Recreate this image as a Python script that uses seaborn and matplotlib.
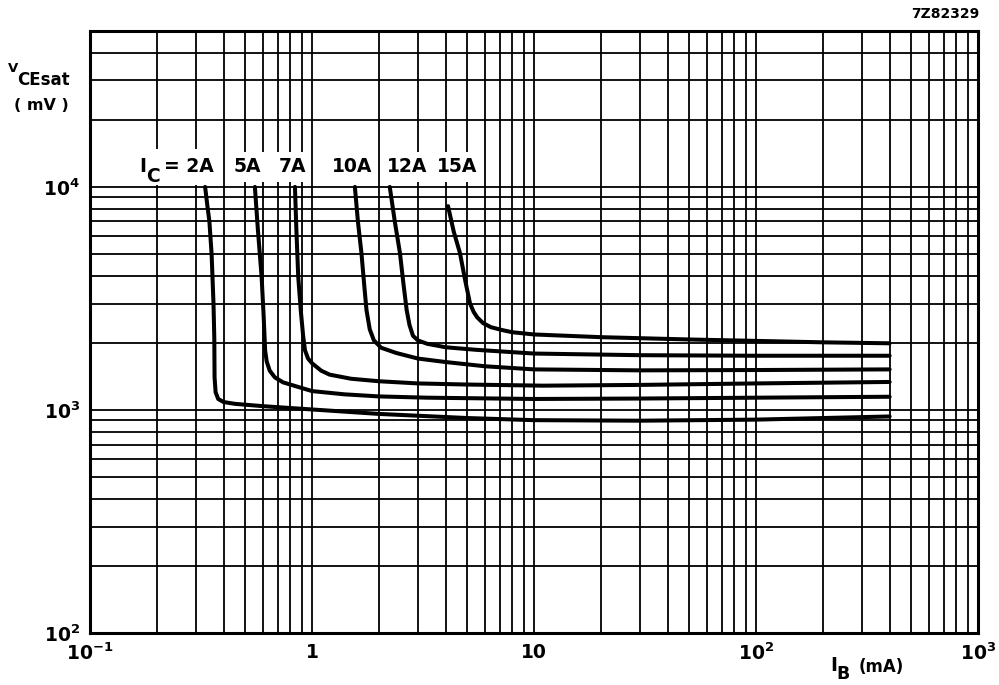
import matplotlib
matplotlib.use("Agg")
import numpy as np
import pandas as pd
import matplotlib.pyplot as plt
import seaborn as sns
from matplotlib.ticker import LogLocator, NullFormatter

# V_CEsat (mV) against I_B (mA), one curve per collector current
ib_2a = [0.330, 0.338, 0.345, 0.353, 0.360, 0.363, 0.364, 0.368, 0.378, 0.40, 0.45, 0.6, 0.8, 1.0, 2.0, 5.0, 10, 30, 100, 400]
vce_2a = [10000, 8200, 7000, 5000, 3000, 2100, 1400, 1200, 1120, 1085, 1065, 1040, 1020, 1005, 960, 920, 900, 895, 905, 935]

ib_5a = [0.553, 0.57, 0.593, 0.606, 0.615, 0.625, 0.645, 0.68, 0.74, 0.84, 1.0, 1.4, 2.0, 3.3, 10, 30, 100, 400]
vce_5a = [10000, 6500, 3950, 2600, 1850, 1650, 1500, 1400, 1330, 1280, 1215, 1175, 1150, 1135, 1120, 1125, 1135, 1146]

ib_7a = [0.838, 0.85, 0.867, 0.89, 0.912, 0.93, 0.96, 1.0, 1.1, 1.2, 1.5, 2.0, 3.0, 5.0, 11, 30, 100, 400]
vce_7a = [10000, 6500, 3950, 2800, 2150, 1850, 1700, 1620, 1500, 1440, 1380, 1345, 1315, 1300, 1285, 1295, 1315, 1335]

ib_10a = [1.56, 1.61, 1.67, 1.72, 1.76, 1.82, 1.9, 2.05, 2.4, 3.0, 4.0, 6.0, 10, 30, 100, 400]
vce_10a = [10000, 7000, 5050, 3600, 2800, 2300, 2050, 1900, 1800, 1700, 1640, 1570, 1520, 1505, 1510, 1520]

ib_12a = [2.24, 2.36, 2.49, 2.58, 2.67, 2.75, 2.85, 3.0, 3.3, 4.0, 5.5, 10, 30, 100, 400]
vce_12a = [10000, 7000, 5050, 3700, 2800, 2400, 2150, 2050, 1980, 1910, 1860, 1790, 1760, 1750, 1750]

ib_15a = [4.1, 4.35, 4.64, 4.9, 5.15, 5.35, 5.55, 5.9, 6.4, 7.2, 8.0, 10, 20, 50, 100, 200, 400]
vce_15a = [8200, 6300, 5050, 3800, 3000, 2750, 2600, 2450, 2350, 2280, 2230, 2180, 2120, 2070, 2040, 2010, 1990]

curve_names = ["2A", "5A", "7A", "10A", "12A", "15A"]
curve_ib = [ib_2a, ib_5a, ib_7a, ib_10a, ib_12a, ib_15a]
curve_vce = [vce_2a, vce_5a, vce_7a, vce_10a, vce_12a, vce_15a]

# curve labels along the top (first one gets the "I_C =" prefix)
label_texts = ["5A", "7A", "10A", "12A", "15A"]
label_x = [0.509, 0.813, 1.51, 2.68, 4.5]
label_y = 12300
first_label_x = 0.166

x_ticks = [0.1, 1, 10, 100, 1000]
x_tick_labels = [r"$10^{-1}$", "1", "10", r"$10^{2}$", r"$10^{3}$"]
y_ticks = [100, 1000, 10000]
y_tick_labels = [r"$10^{2}$", r"$10^{3}$", r"$10^{4}$"]

rows = []
for name, xs, ys in zip(curve_names, curve_ib, curve_vce):
    for a, b in zip(xs, ys):
        rows.append((name, a, b))
df = pd.DataFrame(rows, columns=["ic", "ib", "vce"])

sns.set_style("white")
plt.rcParams["font.family"] = ["DejaVu Sans"]
plt.rcParams["font.weight"] = "bold"
plt.rcParams["mathtext.default"] = "bf"
plt.rcParams["text.color"] = "black"
plt.rcParams["xtick.color"] = "black"
plt.rcParams["ytick.color"] = "black"

W, H = 999, 685
fig = plt.figure(figsize=(W / 100, H / 100), dpi=100)
ax = fig.add_axes([90 / W, (H - 633) / H, (978 - 90) / W, (633 - 31) / H])
ax.set_xscale("log")
ax.set_yscale("log")

sns.lineplot(data=df, x="ib", y="vce", units="ic", estimator=None, sort=False,
             color="black", lw=2.9, ax=ax, zorder=3)

ax.set_xlim(0.1, 1000)
ax.set_ylim(100, 50000)
ax.set_xticks(x_ticks, x_tick_labels)
ax.set_yticks(y_ticks, y_tick_labels)
ax.xaxis.set_minor_locator(LogLocator(base=10, subs=range(2, 10), numticks=20))
ax.yaxis.set_minor_locator(LogLocator(base=10, subs=range(2, 10), numticks=20))
ax.xaxis.set_minor_formatter(NullFormatter())
ax.yaxis.set_minor_formatter(NullFormatter())
ax.tick_params(which="both", length=0, labelsize=13.5, colors="black")
ax.tick_params(axis="x", pad=7)
ax.tick_params(axis="y", pad=7)
ax.set_axisbelow(True)
ax.grid(which="both", color="black", lw=1.3)
for s in ax.spines.values():
    s.set_color("black")
    s.set_linewidth(2.2)
ax.set_xlabel("")
ax.set_ylabel("")

fs = 13.5
box = dict(facecolor="white", edgecolor="none", pad=4)
ax.text(first_label_x, label_y, "I", ha="left", va="center", fontsize=fs,
        bbox=dict(facecolor="white", edgecolor="none", pad=6), zorder=5)
ax.annotate("= 2A", xy=(first_label_x, label_y), xytext=(18, 0), textcoords="offset points",
            ha="left", va="center", fontsize=fs,
            bbox=dict(facecolor="white", edgecolor="none", pad=6), zorder=5)
ax.annotate("C", xy=(first_label_x, label_y), xytext=(5.2, -7), textcoords="offset points",
            ha="left", va="center", fontsize=fs, zorder=6)
for t, x in zip(label_texts, label_x):
    ax.text(x, label_y, t, ha="center", va="center", fontsize=fs, bbox=box, zorder=5)


def px(x, y):
    return x / W, 1 - y / H


fig.text(*px(8, 72), "V", fontsize=9.5, va="baseline")
fig.text(*px(17, 85), "CEsat", fontsize=12, va="baseline")
fig.text(*px(14, 110), "( mV )", fontsize=11.5, va="baseline")

fig.text(*px(830, 671), "I", fontsize=13.5, va="baseline")
fig.text(*px(836, 679), "B", fontsize=12.5, va="baseline")
fig.text(*px(859, 672), "(mA)", fontsize=12, va="baseline")

fig.text(*px(979, 18), "7Z82329", fontsize=10, fontweight="bold", ha="right", va="baseline")

fig.savefig("out.png", dpi=100)
